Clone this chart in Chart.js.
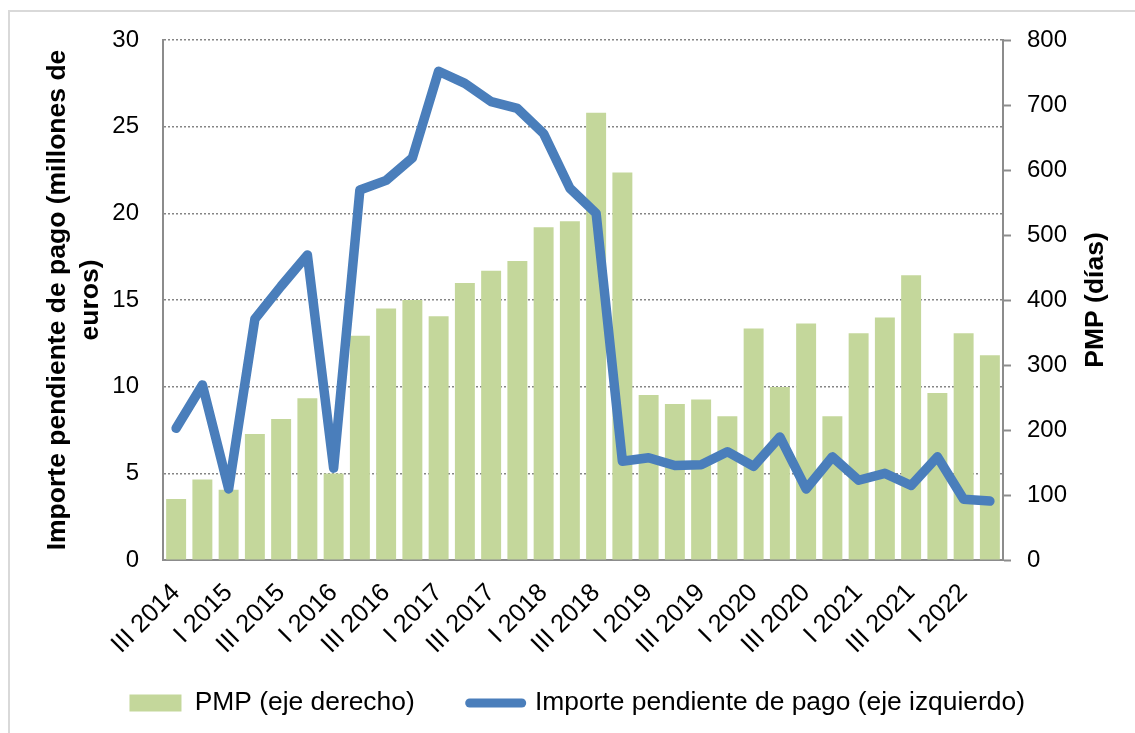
<!DOCTYPE html>
<html>
<head>
<meta charset="utf-8">
<script src="https://cdn.jsdelivr.net/npm/chart.js@4.4.1/dist/chart.umd.min.js"></script>
<style>
  html, body { margin: 0; padding: 0; background: #fff; overflow: hidden; }
  #wrap { position: relative; width: 1135px; height: 733px; }
  #frame { position: absolute; left: 8px; top: 10px; width: 1200px; height: 800px; border: 2px solid #d9d9d9; }
  #chart { position: absolute; left: 0; top: 0; }
</style>
</head>
<body>
<div id="wrap">
  <div id="frame"></div>
  <canvas id="chart" width="1135" height="733"></canvas>
</div>
<script>
const quarters = [
  "III 2014", "IV 2014", "I 2015", "II 2015", "III 2015", "IV 2015",
  "I 2016", "II 2016", "III 2016", "IV 2016", "I 2017", "II 2017",
  "III 2017", "IV 2017", "I 2018", "II 2018", "III 2018", "IV 2018",
  "I 2019", "II 2019", "III 2019", "IV 2019", "I 2020", "II 2020",
  "III 2020", "IV 2020", "I 2021", "II 2021", "III 2021", "IV 2021",
  "I 2022", "II 2022"
];

// PMP in days (right axis)
const pmpDays = [
  94, 124, 108, 194, 217, 249, 133, 345, 387, 400, 375, 426,
  445, 460, 512, 521, 688, 596, 254, 240, 247, 221, 356, 266,
  364, 221, 349, 373, 438, 257, 349, 315
];

// outstanding amount, millions of euros (left axis)
const importePendiente = [
  7.6, 10.1, 4.1, 13.9, 15.8, 17.6, 5.3, 21.35, 21.9, 23.2, 28.2, 27.5,
  26.45, 26.05, 24.6, 21.45, 20.0, 5.7, 5.9, 5.45, 5.5, 6.25, 5.4, 7.1,
  4.1, 5.95, 4.6, 5.0, 4.3, 5.95, 3.5, 3.4
];

const FONT = '"Liberation Sans", Arial, sans-serif';
const AXIS_GREY = "#8c8c8c";
const PAD_LEFT = 19.4;

const rightTitle = {
  id: "rightTitle",
  afterDraw(chart) {
    const { ctx, chartArea, scales } = chart;
    ctx.save();
    ctx.translate(scales.y1.right - 39, (chartArea.top + chartArea.bottom) / 2);
    ctx.rotate(-Math.PI / 2);
    ctx.font = "bold 26.5px " + FONT;
    ctx.fillStyle = "#000";
    ctx.textAlign = "center";
    ctx.textBaseline = "middle";
    ctx.fillText("PMP (días)", 0, 0);
    ctx.restore();
  },
};

new Chart(document.getElementById("chart"), {
  data: {
    labels: quarters,
    datasets: [
      {
        type: "bar",
        label: "PMP (eje derecho)",
        data: pmpDays,
        yAxisID: "y1",
        backgroundColor: "#c4d79b",
        categoryPercentage: 1,
        barPercentage: 0.76,
        order: 2,
      },
      {
        type: "line",
        label: "Importe pendiente de pago (eje izquierdo)",
        data: importePendiente,
        yAxisID: "y",
        borderColor: "#4a7ebb",
        backgroundColor: "#4a7ebb",
        borderWidth: 9.5,
        borderCapStyle: "round",
        borderJoinStyle: "round",
        pointRadius: 0,
        tension: 0,
        order: 1,
      },
    ],
  },
  options: {
    responsive: false,
    animation: false,
    layout: { padding: { top: 40, left: PAD_LEFT, right: 0, bottom: 6.8 } },
    plugins: {
      tooltip: { enabled: false },
      legend: {
        position: "bottom",
        labels: {
          font: { family: FONT, size: 26.4 },
          color: "#000",
          usePointStyle: true,
          pointStyleWidth: 52,
          boxHeight: 17,
          padding: 55,
          sort: (a, b) => a.datasetIndex - b.datasetIndex,
          generateLabels(chart) {
            const items = Chart.defaults.plugins.legend.labels.generateLabels(chart);
            items.forEach((item) => {
              if (item.datasetIndex === 0) {
                item.pointStyle = "rect";
                item.lineWidth = 0;
              } else {
                item.pointStyle = "line";
                item.lineWidth = 9;
                item.lineCap = "round";
                item.strokeStyle = "#4a7ebb";
              }
            });
            return items;
          },
        },
      },
    },
    scales: {
      x: {
        grid: { display: false, drawTicks: false },
        border: { display: true, color: AXIS_GREY, width: 2 },
        ticks: {
          autoSkip: false,
          maxRotation: 45,
          minRotation: 45,
          padding: 18,
          color: "#000",
          font: { family: FONT, size: 25.5 },
          callback(value, index) {
            return index % 2 === 0 ? quarters[index] : "";
          },
        },
        afterFit(scale) {
          scale.height = 74.8;
          // labels run down past the scale box, as in the original; don't clip them
          scale._computeLabelArea = () => null;
        },
      },
      y: {
        position: "left",
        min: 0,
        max: 30,
        ticks: {
          stepSize: 5,
          padding: 24,
          color: "#000",
          font: { family: FONT, size: 24 },
        },
        grid: { color: "#858585", lineWidth: 1.5, drawTicks: false },
        border: { display: true, color: AXIS_GREY, width: 2, dash: [2, 2] },
        title: {
          display: true,
          text: ["Importe pendiente de pago (millones de", "euros)"],
          color: "#000",
          font: { family: FONT, size: 26.5, weight: "bold", lineHeight: 1.245 },
          padding: { top: 22.1, bottom: 0 },
        },
        afterFit(scale) { scale.width = 163 - PAD_LEFT; },
      },
      y1: {
        position: "right",
        min: 0,
        max: 800,
        ticks: {
          stepSize: 100,
          padding: 16,
          color: "#000",
          font: { family: FONT, size: 24 },
        },
        grid: {
          drawOnChartArea: false,
          drawTicks: true,
          tickLength: 8,
          tickColor: AXIS_GREY,
          tickWidth: 2,
        },
        border: { display: true, color: AXIS_GREY, width: 2 },
        afterFit(scale) { scale.width = 132; },
      },
    },
  },
  plugins: [rightTitle],
});
</script>
</body>
</html>
